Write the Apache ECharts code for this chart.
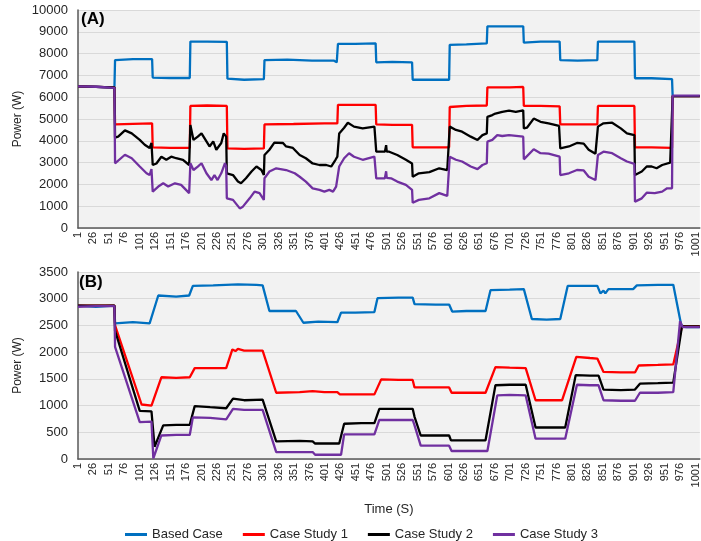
<!DOCTYPE html>
<html lang="en">
<head>
    <meta charset="UTF-8">
    <title>Power profiles</title>
    <script src="https://cdn.jsdelivr.net/npm/echarts@6/dist/echarts.min.js"></script>
    <style>
        html, body { margin: 0; padding: 0; background: #fff; }
        #main { width: 701px; height: 541px; }
    </style>
</head>
<body>
<div id="main"></div>

<script type="text/javascript">
    // tick labels of the time axis
    var timeTicks = [1, 26, 51, 76, 101, 126, 151, 176, 201, 226, 251, 276, 301, 326, 351, 376, 401, 426,
        451, 476, 501, 526, 551, 576, 601, 626, 651, 676, 701, 726, 751, 776, 801, 826, 851, 876,
        901, 926, 951, 976, 1001];

    var seriesNames = ['Based Case', 'Case Study 1', 'Case Study 2', 'Case Study 3'];

    // ---- panel (A), [time, power] ----
    var baseA = [[1,6500],[30,6480],[60,6430],[61,7700],[90,7750],[121,7750],[122,6900],[150,6880],[182,6880],
        [183,8550],[210,8550],[242,8540],[243,6850],[270,6800],[302,6830],[303,7700],[340,7720],[380,7680],
        [415,7680],[420,7600],[422,8450],[450,8450],[483,8470],[484,7600],[510,7620],[542,7600],[543,6800],
        [575,6800],[602,6800],[603,8400],[630,8420],[663,8470],[664,9250],[700,9250],[722,9250],[723,8500],
        [750,8550],[781,8550],[782,7700],[810,7680],[842,7700],[843,8550],[870,8550],[902,8550],[903,6870],
        [930,6870],[963,6830],[964,6050],[1008,6050]];

    var cs1A = [[1,6500],[60,6450],[61,4750],[90,4780],[121,4800],[122,3700],[150,3680],[182,3680],[183,5600],
        [210,5620],[242,5600],[243,3650],[270,3630],[302,3650],[303,4750],[350,4770],[400,4800],[421,4800],
        [422,5650],[450,5650],[483,5650],[484,4750],[510,4730],[542,4730],[543,3700],[575,3700],[602,3700],
        [603,5550],[630,5600],[663,5620],[664,6450],[700,6450],[722,6470],[723,5600],[750,5600],[781,5580],
        [782,4750],[810,4750],[842,4750],[843,5600],[870,5600],[902,5600],[903,3700],[930,3700],[963,3680],
        [964,6050],[1008,6050]];

    var cs2A = [[1,6500],[60,6450],[61,4150],[66,4190],[77,4480],[88,4340],[101,4040],[109,3820],[117,3670],
        [120,3900],[121,3850],[122,2890],[128,2960],[136,3270],[144,3130],[152,3270],[160,3200],[171,3130],
        [181,2890],[182,2850],[183,4725],[188,4040],[195,4190],[201,4340],[209,3970],[214,3740],[220,3970],
        [225,3590],[233,3900],[237,4340],[241,4190],[242,2510],[252,2430],[260,2130],[265,2050],[273,2280],
        [282,2590],[290,2820],[298,2660],[302,2430],[303,3350],[311,3590],[319,3920],[333,3900],[338,3740],
        [349,3670],[360,3350],[370,3200],[381,2960],[392,2890],[403,2890],[411,2820],[418,3130],[421,3270],
        [424,4340],[432,4600],[438,4830],[448,4650],[462,4570],[481,4650],[483,4600],[484,3500],[498,3500],
        [500,3800],[501,3500],[505,3500],[518,3350],[532,3130],[542,2960],[543,2350],[553,2510],[570,2560],
        [586,2740],[599,2660],[602,2700],[603,4650],[613,4500],[623,4420],[637,4190],[648,4040],[656,4260],
        [663,4340],[664,5100],[672,5180],[677,5250],[688,5330],[699,5380],[710,5330],[722,5400],[723,4570],
        [728,4600],[739,5020],[750,4870],[763,4800],[780,4680],[781,4650],[782,3650],[796,3740],[809,3900],
        [820,3870],[828,3590],[839,3410],[842,3400],[843,4650],[852,4800],[866,4830],[880,4570],[890,4340],
        [902,4260],[903,2430],[914,2590],[922,2820],[930,2820],[938,2740],[947,2890],[960,3000],[963,3000],
        [964,6050],[1008,6050]];

    var cs3A = [[1,6500],[30,6480],[60,6430],[61,2970],[77,3360],[88,3200],[101,2820],[112,2510],[117,2430],
        [120,2700],[121,2650],[122,1670],[131,1900],[139,2050],[147,1900],[158,2050],[168,1980],[181,1600],
        [182,1580],[183,2970],[188,2660],[195,2820],[201,2970],[209,2510],[217,2200],[222,2430],[227,2200],
        [233,2510],[239,2970],[241,2820],[242,1360],[252,1290],[263,900],[268,980],[279,1360],[287,1670],
        [295,1600],[302,1290],[303,2280],[311,2590],[322,2740],[338,2660],[352,2510],[360,2350],[370,2130],
        [381,1820],[392,1750],[400,1670],[408,1750],[414,1670],[419,1900],[424,2820],[432,3200],[440,3430],
        [448,3270],[462,3130],[481,3270],[483,3250],[484,2280],[498,2280],[500,2600],[501,2300],[508,2280],
        [518,2130],[532,1980],[542,1750],[543,1160],[553,1290],[570,1360],[586,1600],[599,1470],[602,1500],
        [603,3270],[613,3130],[623,3050],[637,2820],[648,2700],[656,2890],[663,2970],[664,3960],[672,4040],
        [680,4260],[688,4220],[699,4260],[722,4190],[723,3150],[739,3610],[750,3430],[763,3410],[781,3270],
        [782,2430],[796,2510],[809,2660],[820,2640],[828,2350],[839,2200],[842,2200],[843,3350],[852,3500],
        [866,3430],[880,3200],[890,3050],[902,2940],[903,1210],[914,1360],[922,1620],[935,1600],[947,1670],
        [955,1820],[963,1820],[964,6070],[1008,6070]];

    // ---- panel (B), [time, power] ----
    var baseB = [[1,2870],[30,2850],[60,2870],[61,2540],[63,2540],[90,2560],[117,2540],[131,3060],[160,3040],
        [181,3060],[187,3240],[220,3250],[260,3270],[290,3260],[300,3250],[311,2770],[340,2770],[354,2770],
        [357,2800],[366,2550],[390,2570],[421,2560],[427,2740],[450,2740],[481,2750],[486,3010],[520,3020],
        [543,3020],[546,2900],[580,2890],[602,2890],[607,2760],[630,2770],[661,2770],[669,3160],[700,3170],
        [723,3180],[736,2620],[760,2610],[782,2620],[794,3240],[820,3240],[842,3240],[847,3100],[852,3150],
        [855,3100],[860,3180],[900,3180],[906,3250],[940,3260],[965,3260],[978,2500],[985,2470],[1008,2470]];

    var cs1B = [[1,2870],[60,2870],[61,2500],[63,2470],[104,1020],[120,1000],[136,1530],[160,1520],[182,1530],
        [190,1700],[220,1700],[241,1700],[251,2050],[256,2020],[260,2060],[270,2030],[300,2030],[322,1240],
        [360,1250],[381,1270],[400,1250],[421,1250],[425,1210],[481,1210],[492,1490],[520,1480],[543,1480],
        [546,1340],[575,1340],[602,1340],[606,1240],[640,1240],[661,1240],[677,1720],[700,1710],[726,1700],
        [742,1100],[765,1100],[785,1100],[808,1910],[830,1890],[842,1880],[852,1630],[880,1620],[903,1620],
        [909,1750],[940,1760],[965,1770],[979,2480],[1008,2480]];

    var cs2B = [[1,2870],[60,2870],[61,2400],[63,2400],[101,900],[120,890],[121,880],[125,230],[139,630],
        [160,640],[182,640],[190,990],[215,970],[241,950],[252,1130],[270,1100],[300,1110],[322,330],
        [360,340],[381,330],[385,290],[424,290],[432,660],[460,670],[481,670],[489,940],[520,940],[543,940],
        [546,790],[556,440],[580,440],[602,440],[605,350],[640,350],[661,350],[677,1380],[700,1390],
        [726,1390],[742,590],[765,590],[790,590],[807,1570],[830,1560],[844,1560],[852,1300],[880,1290],
        [903,1300],[911,1410],[940,1420],[965,1430],[979,2480],[1008,2480]];

    var cs3B = [[1,2850],[30,2860],[60,2860],[61,2100],[63,2100],[101,690],[120,700],[121,690],[123,10],
        [136,440],[160,450],[182,450],[187,780],[215,770],[241,740],[252,940],[270,920],[300,920],[322,130],
        [360,130],[381,130],[385,80],[427,80],[432,460],[460,460],[481,460],[489,730],[520,730],[543,730],
        [546,630],[556,250],[580,250],[602,250],[606,150],[640,150],[664,150],[680,1190],[700,1200],
        [726,1190],[742,380],[765,380],[790,380],[809,1390],[830,1380],[844,1380],[852,1100],[880,1090],
        [903,1090],[911,1240],[940,1240],[965,1250],[976,2580],[980,2470],[1008,2470]];

    var colors = ['#0070C0', '#FF0000', '#000000', '#7030A0'];
    var font = 'Liberation Sans, Arial, sans-serif';

    function plain(v) { return String(v); }

    function xAxisFor(gridIndex, withName) {
        return {
            type: 'value',
            gridIndex: gridIndex,
            min: 1,
            max: 1008,
            name: withName ? 'Time (S)' : '',
            nameLocation: 'middle',
            nameGap: 44,
            nameTextStyle: { fontFamily: font, fontSize: 13, color: '#262626' },
            axisLine: { show: true, lineStyle: { color: '#595959', width: 1.5 } },
            axisTick: { show: false },
            splitLine: { show: false },
            axisLabel: {
                customValues: timeTicks,
                formatter: plain,
                rotate: 90,
                margin: 4,
                fontFamily: font,
                fontSize: 11,
                color: '#262626'
            }
        };
    }

    function yAxisFor(gridIndex, max, interval) {
        return {
            type: 'value',
            gridIndex: gridIndex,
            min: 0,
            max: max,
            interval: interval,
            name: 'Power (W)',
            nameLocation: 'middle',
            nameGap: 54,
            nameMoveOverlap: false,
            nameRotate: 90,
            nameTextStyle: { fontFamily: font, fontSize: 12, color: '#262626' },
            axisLine: { show: true, lineStyle: { color: '#595959', width: 1.5 } },
            axisTick: { show: false },
            axisLabel: { formatter: plain, fontFamily: font, fontSize: 13, color: '#262626', margin: 10 },
            splitLine: { show: true, lineStyle: { color: '#D9D9D9', width: 1 } }
        };
    }

    function line(name, data, idx, panel) {
        return {
            name: name,
            type: 'line',
            xAxisIndex: panel,
            yAxisIndex: panel,
            data: data,
            showSymbol: false,
            symbol: 'none',
            animation: false,
            lineStyle: { color: colors[idx], width: 2.3 },
            itemStyle: { color: colors[idx] }
        };
    }

    var myChart = echarts.init(document.getElementById('main'));

    var option = {
        animation: false,
        grid: [
            { left: 78, right: 0, top: 10, height: 218, show: true, backgroundColor: '#F2F2F2', borderWidth: 0 },
            { left: 78, right: 0, top: 272, height: 187, show: true, backgroundColor: '#F2F2F2', borderWidth: 0 }
        ],
        xAxis: [xAxisFor(0, false), xAxisFor(1, true)],
        yAxis: [yAxisFor(0, 10000, 1000), yAxisFor(1, 3500, 500)],
        legend: {
            data: seriesNames,
            left: 120,
            top: 523,
            icon: 'rect',
            itemWidth: 22,
            itemHeight: 3,
            itemGap: 20,
            textStyle: { fontFamily: font, fontSize: 13, color: '#262626' }
        },
        graphic: [
            { type: 'text', left: 81, top: 11, style: { text: '(A)', font: 'bold 17px ' + font, fill: '#000' } },
            { type: 'text', left: 79, top: 274, style: { text: '(B)', font: 'bold 17px ' + font, fill: '#000' } }
        ],
        series: [
            line(seriesNames[0], baseA, 0, 0),
            line(seriesNames[1], cs1A, 1, 0),
            line(seriesNames[2], cs2A, 2, 0),
            line(seriesNames[3], cs3A, 3, 0),
            line(seriesNames[0], baseB, 0, 1),
            line(seriesNames[1], cs1B, 1, 1),
            line(seriesNames[2], cs2B, 2, 1),
            line(seriesNames[3], cs3B, 3, 1)
        ]
    };

    myChart.setOption(option);
</script>

</body>
</html>
